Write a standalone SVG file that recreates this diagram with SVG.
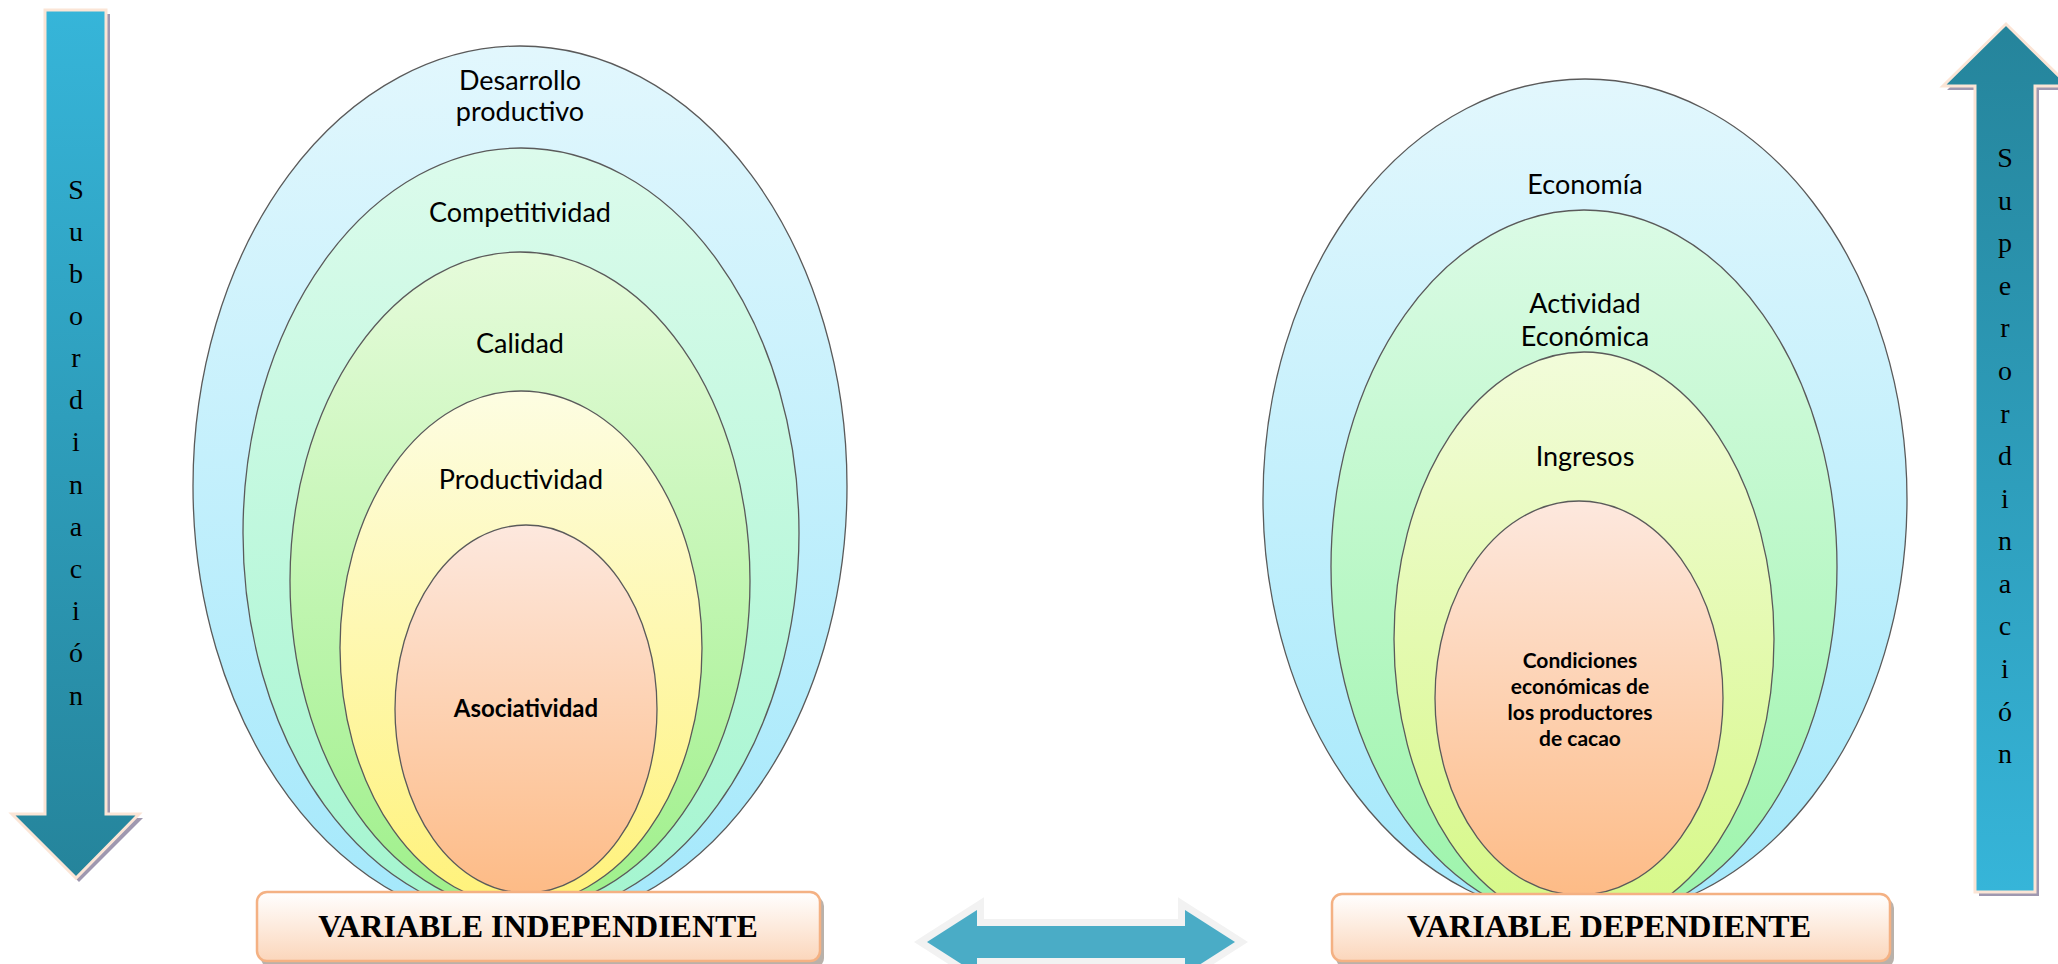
<svg xmlns="http://www.w3.org/2000/svg" width="2058" height="964" viewBox="0 0 2058 964">
<defs>
<linearGradient id="gBlue" x1="0" y1="0" x2="0" y2="1"><stop offset="0" stop-color="#e2f7fd"/><stop offset="1" stop-color="#a3e8fb"/></linearGradient>
<linearGradient id="gMint" x1="0" y1="0" x2="0" y2="1"><stop offset="0" stop-color="#dcfbec"/><stop offset="1" stop-color="#a3f5cf"/></linearGradient>
<linearGradient id="gGreen" x1="0" y1="0" x2="0" y2="1"><stop offset="0" stop-color="#e6fbdb"/><stop offset="1" stop-color="#9ef08a"/></linearGradient>
<linearGradient id="gGreen2" x1="0" y1="0" x2="0" y2="1"><stop offset="0" stop-color="#dbfbe6"/><stop offset="1" stop-color="#9cf4aa"/></linearGradient>
<linearGradient id="gYellow" x1="0" y1="0" x2="0" y2="1"><stop offset="0" stop-color="#fdfde2"/><stop offset="1" stop-color="#fff27a"/></linearGradient>
<linearGradient id="gLime" x1="0" y1="0" x2="0" y2="1"><stop offset="0" stop-color="#f2fcda"/><stop offset="1" stop-color="#d6f886"/></linearGradient>
<linearGradient id="gPeach" x1="0" y1="0" x2="0" y2="1"><stop offset="0" stop-color="#fde8de"/><stop offset="1" stop-color="#fdbb86"/></linearGradient>
<linearGradient id="gDown" x1="0" y1="0" x2="0" y2="1"><stop offset="0" stop-color="#36b5d9"/><stop offset="1" stop-color="#25849b"/></linearGradient>
<linearGradient id="gUp" x1="0" y1="0" x2="0" y2="1"><stop offset="0" stop-color="#25849b"/><stop offset="1" stop-color="#36b5d9"/></linearGradient>
<linearGradient id="gBox" x1="0" y1="0" x2="0" y2="1"><stop offset="0" stop-color="#ffffff"/><stop offset="1" stop-color="#fbd6bb"/></linearGradient>
</defs>
<style>
.ell{stroke:#5a5a5a;stroke-width:1.3}
.lbl{font-family:Lato,"Liberation Sans",sans-serif;font-size:27px;fill:#000;text-anchor:middle}
.bold{font-weight:bold}
.vt{font-family:"Liberation Serif",serif;font-size:28px;fill:#000;text-anchor:middle}
.box{fill:url(#gBox);stroke:#f4b183;stroke-width:2.5}
.boxsh{fill:#b9b1aa}
.boxt{font-family:"Liberation Serif",serif;font-weight:bold;font-size:32px;fill:#000;text-anchor:middle}
.varr{stroke:#fbe5d6;stroke-width:3}
.varrsh{fill:#9f98b0}
</style>
<rect width="2058" height="964" fill="#ffffff"/>

<g id="arrow-subordinacion">
<polygon class="varrsh" points="49,14 110,14 110,818 143,818 79,882 16,818 49,818"/>
<polygon class="varr" fill="url(#gDown)" points="45,10 106,10 106,814 139,814 76,878 12,814 45,814"/>
<text class="vt"><tspan x="76" y="199">S</tspan><tspan x="76" y="241">u</tspan><tspan x="76" y="283">b</tspan><tspan x="76" y="325">o</tspan><tspan x="76" y="367">r</tspan><tspan x="76" y="409">d</tspan><tspan x="76" y="451">i</tspan><tspan x="76" y="494">n</tspan><tspan x="76" y="536">a</tspan><tspan x="76" y="578">c</tspan><tspan x="76" y="620">i</tspan><tspan x="76" y="662">ó</tspan><tspan x="76" y="705">n</tspan></text>
</g>

<g id="arrow-superordinacion">
<polygon class="varrsh" points="1979,896 1979,90 1947,90 2010,28 2073,90 2039,90 2039,896"/>
<polygon class="varr" fill="url(#gUp)" points="1975,892 1975,86 1943,86 2006,24 2069,86 2035,86 2035,892"/>
<text class="vt"><tspan x="2005" y="167">S</tspan><tspan x="2005" y="210">u</tspan><tspan x="2005" y="252">p</tspan><tspan x="2005" y="295">e</tspan><tspan x="2005" y="337">r</tspan><tspan x="2005" y="380">o</tspan><tspan x="2005" y="423">r</tspan><tspan x="2005" y="465">d</tspan><tspan x="2005" y="508">i</tspan><tspan x="2005" y="550">n</tspan><tspan x="2005" y="593">a</tspan><tspan x="2005" y="635">c</tspan><tspan x="2005" y="678">i</tspan><tspan x="2005" y="721">ó</tspan><tspan x="2005" y="763">n</tspan></text>
</g>

<g id="independiente-set">
<g id="desarrollo-productivo">
<ellipse class="ell" cx="520" cy="486" rx="327" ry="440" fill="url(#gBlue)"/>
<text class="lbl"><tspan x="520" y="90">Desarrollo</tspan><tspan x="520" y="121">productivo</tspan></text>
</g>
<g id="competitividad">
<ellipse class="ell" cx="521" cy="533" rx="278" ry="385" fill="url(#gMint)"/>
<text class="lbl" x="520" y="222">Competitividad</text>
</g>
<g id="calidad">
<ellipse class="ell" cx="520" cy="581" rx="230" ry="329" fill="url(#gGreen)"/>
<text class="lbl" x="520" y="353">Calidad</text>
</g>
<g id="productividad">
<ellipse class="ell" cx="521" cy="648" rx="181" ry="257" fill="url(#gYellow)"/>
<text class="lbl" x="521" y="489">Productividad</text>
</g>
<g id="asociatividad">
<ellipse class="ell" cx="526" cy="709" rx="131" ry="184" fill="url(#gPeach)"/>
<text class="lbl bold" x="526" y="717" style="font-size:24px">Asociatividad</text>
</g>
</g>

<g id="dependiente-set">
<g id="economia">
<ellipse class="ell" cx="1585" cy="499" rx="322" ry="420" fill="url(#gBlue)"/>
<text class="lbl" x="1585" y="194">Economía</text>
</g>
<g id="actividad-economica">
<ellipse class="ell" cx="1584" cy="567" rx="253" ry="357" fill="url(#gGreen2)"/>
<text class="lbl"><tspan x="1585" y="313">Actividad</tspan><tspan x="1585" y="346">Económica</tspan></text>
</g>
<g id="ingresos">
<ellipse class="ell" cx="1584" cy="639" rx="190" ry="287" fill="url(#gLime)"/>
<text class="lbl" x="1585" y="466">Ingresos</text>
</g>
<g id="condiciones">
<ellipse class="ell" cx="1579" cy="698" rx="144" ry="197" fill="url(#gPeach)"/>
<text class="lbl bold" style="font-size:21px"><tspan x="1580" y="668">Condiciones</tspan><tspan x="1580" y="694">económicas de</tspan><tspan x="1580" y="720">los productores</tspan><tspan x="1580" y="746">de cacao</tspan></text>
</g>
</g>

<g id="variable-independiente">
<rect class="boxsh" x="261" y="896" width="563" height="72" rx="10"/>
<rect class="box" x="257" y="892" width="563" height="69" rx="10"/>
<text class="boxt" x="538" y="937">VARIABLE INDEPENDIENTE</text>
</g>

<g id="variable-dependiente">
<rect class="boxsh" x="1336" y="898" width="558" height="70" rx="10"/>
<rect class="box" x="1332" y="894" width="558" height="67" rx="10"/>
<text class="boxt" x="1609" y="937">VARIABLE DEPENDIENTE</text>
</g>

<g id="connectors">
<polygon fill="#8fb0ba" points="931,946 981,914 981,930 1189,930 1189,914 1239,946 1189,978 1189,962 981,962 981,978"/>
<polygon fill="#4aacc6" stroke="#f2f2f2" stroke-width="14" stroke-linejoin="miter" paint-order="stroke" points="927,942 977,910 977,926 1185,926 1185,910 1235,942 1185,974 1185,958 977,958 977,974"/>
</g>
</svg>
